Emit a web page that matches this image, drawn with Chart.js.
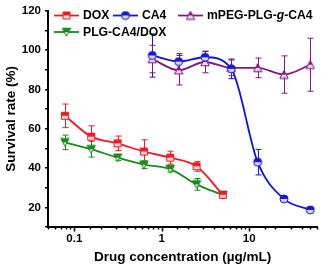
<!DOCTYPE html>
<html>
<head>
<meta charset="utf-8">
<script src="https://cdn.jsdelivr.net/npm/chart.js@4.4.0/dist/chart.umd.min.js"></script>
<style>
  html, body { margin: 0; padding: 0; background: #fff; }
  #wrap { width: 323px; height: 268px; }
</style>
</head>
<body>
<div id="wrap"><canvas id="cell"></canvas></div>
<script>
// concentrations (ug/mL)
const doxConc = [0.078, 0.156, 0.3125, 0.625, 1.25, 2.5, 5];
const ca4Conc = [0.78, 1.56, 3.125, 6.25, 12.5, 25, 50];

// survival rate (%) and error
const doxRate = [66.6, 56, 52.6, 48.4, 45.3, 40.9, 26.4];
const doxErr  = [6, 5.5, 3.7, 6, 3.3, 2.5, 1.5];
const ca4Rate = [97.3, 94.2, 96.4, 90.5, 43, 24.3, 18.7];
const ca4Err  = [11, 4, 3, 5, 6.5, 1, 1];
const mpegRate = [95.5, 89.8, 94, 91, 91, 87.6, 92.6];
const mpegErr  = [7, 7.5, 5.5, 4, 5, 9.5, 13.5];
const plgRate = [53.1, 49.6, 45.3, 41.7, 39.5, 31.7, 26.3];
const plgErr  = [3.7, 4, 1.5, 2, 1.5, 3, 1.5];

const xTickLabels = [0.1, 1, 10];
const FONT = "'Liberation Sans', Arial, sans-serif";

function halfMarker(shape, color, light) {
  const s = 10;
  const c = document.createElement('canvas');
  c.width = s; c.height = s;
  const ctx = c.getContext('2d');
  const m = s / 2;
  function path() {
    ctx.beginPath();
    if (shape === 'rect') ctx.rect(1.5, 1.5, s - 3, s - 3);
    else if (shape === 'circle') ctx.arc(m, m, m - 1, 0, Math.PI * 2);
    else if (shape === 'up') { ctx.moveTo(m, 0.8); ctx.lineTo(s - 0.8, s - 1.2); ctx.lineTo(0.8, s - 1.2); ctx.closePath(); }
    else { ctx.moveTo(0.8, 1.2); ctx.lineTo(s - 0.8, 1.2); ctx.lineTo(m, s - 0.8); ctx.closePath(); }
  }
  ctx.save();
  path();
  ctx.clip();
  ctx.fillStyle = light;
  ctx.fillRect(0, 0, s, s);
  ctx.fillStyle = color;
  ctx.fillRect(0, 0, s, m);
  ctx.restore();
  path();
  ctx.strokeStyle = color;
  ctx.lineWidth = 1;
  ctx.stroke();
  return c;
}

function pts(xs, ys) {
  return xs.map((x, i) => ({ x: x, y: ys[i] }));
}

const series = [
  { label: 'DOX', xs: doxConc, ys: doxRate, err: doxErr, color: '#ee1c24', light: '#fcd6d6', shape: 'rect' },
  { label: 'CA4', xs: ca4Conc, ys: ca4Rate, err: ca4Err, color: '#1414dc', light: '#d6d6fa', shape: 'circle' },
  { label: 'mPEG-PLG-g-CA4', xs: ca4Conc, ys: mpegRate, err: mpegErr, color: '#80187f', light: '#ecd4ec', shape: 'up' },
  { label: 'PLG-CA4/DOX', xs: doxConc, ys: plgRate, err: plgErr, color: '#1a8a1a', light: '#d4ecd4', shape: 'down' }
];
series.forEach(s => { s.marker = halfMarker(s.shape, s.color, s.light); });

const errorBars = {
  id: 'errorBars',
  beforeDatasetsDraw(chart) {
    const ctx = chart.ctx;
    const xs = chart.scales.x, ys = chart.scales.y;
    ctx.save();
    series.forEach(s => {
      ctx.strokeStyle = s.color;
      ctx.lineWidth = 1;
      s.xs.forEach((x, i) => {
        const px = Math.round(xs.getPixelForValue(x)) + 0.5;
        const top = ys.getPixelForValue(s.ys[i] + s.err[i]);
        const bot = ys.getPixelForValue(s.ys[i] - s.err[i]);
        ctx.beginPath();
        ctx.moveTo(px, top); ctx.lineTo(px, bot);
        ctx.moveTo(px - 3, top); ctx.lineTo(px + 3, top);
        ctx.moveTo(px - 3, bot); ctx.lineTo(px + 3, bot);
        ctx.stroke();
      });
    });
    ctx.restore();
  }
};

// log-axis ticks: long at decades, short between
const xTicks = {
  id: 'xTicks',
  afterDraw(chart) {
    const ctx = chart.ctx;
    const xs = chart.scales.x;
    const y0 = chart.chartArea.bottom;
    ctx.save();
    ctx.strokeStyle = '#000';
    ctx.lineWidth = 1.5;
    xs.ticks.forEach(t => {
      const px = Math.round(xs.getPixelForValue(t.value)) + 0.5;
      const major = xTickLabels.includes(+t.value.toPrecision(3));
      ctx.beginPath();
      ctx.moveTo(px, y0);
      ctx.lineTo(px, y0 + (major ? 4.5 : 2.5));
      ctx.stroke();
    });
    ctx.restore();
  }
};

const legendDraw = {
  id: 'legendDraw',
  afterDraw(chart) {
    const ctx = chart.ctx;
    const spots = [
      { x: 54, y: 15.5 }, { x: 113, y: 15.5 }, { x: 178, y: 15.5 }, { x: 54, y: 32 }
    ];
    ctx.save();
    ctx.textBaseline = 'middle';
    series.forEach((s, i) => {
      const p = spots[i];
      ctx.strokeStyle = s.color;
      ctx.lineWidth = 1.8;
      ctx.beginPath();
      ctx.moveTo(p.x, p.y); ctx.lineTo(p.x + 25, p.y);
      ctx.stroke();
      ctx.drawImage(s.marker, p.x + 12.5 - s.marker.width / 2, p.y - s.marker.height / 2);
      ctx.fillStyle = '#000';
      let tx = p.x + 29;
      const parts = s.label === 'mPEG-PLG-g-CA4'
        ? [['mPEG-PLG-', false], ['g', true], ['-CA4', false]]
        : [[s.label, false]];
      parts.forEach(([txt, it]) => {
        ctx.font = (it ? 'italic ' : '') + 'bold 12.2px ' + FONT;
        ctx.fillText(txt, tx, p.y + 0.5);
        tx += ctx.measureText(txt).width;
      });
    });
    ctx.restore();
  }
};

new Chart(document.getElementById('cell').getContext('2d'), {
  type: 'line',
  data: {
    datasets: series.map(s => ({
      label: s.label,
      data: pts(s.xs, s.ys),
      borderColor: s.color,
      backgroundColor: s.color,
      borderWidth: 1.8,
      cubicInterpolationMode: 'monotone',
      pointStyle: s.marker,
      pointRadius: 4,
      pointHoverRadius: 4,
      fill: false
    }))
  },
  options: {
    responsive: true,
    maintainAspectRatio: false,
    animation: false,
    events: [],
    layout: { padding: { top: 9, right: 5, left: 0, bottom: 0 } },
    plugins: {
      legend: { display: false },
      tooltip: { enabled: false }
    },
    scales: {
      x: {
        type: 'logarithmic',
        min: 0.05,
        max: 60,
        afterFit: sc => { sc.height = 41; },
        border: { display: true, color: '#000', width: 2 },
        grid: { display: false, drawTicks: false, tickLength: 0 },
        ticks: {
          autoSkip: false,
          maxRotation: 0,
          padding: 5,
          color: '#000',
          font: { family: FONT, size: 11.5, weight: 'bold' },
          callback: v => xTickLabels.includes(+(+v).toPrecision(3)) ? String(+(+v).toPrecision(3)) : ''
        },
        title: {
          display: true,
          text: 'Drug concentration (\u00b5g/mL)',
          color: '#000',
          font: { family: FONT, size: 13.5, weight: 'bold' },
          padding: { top: 0, bottom: 3 }
        }
      },
      y: {
        min: 10,
        max: 120,
        afterFit: sc => { sc.width = 48; },
        border: { display: true, color: '#000', width: 2 },
        grid: { drawOnChartArea: false, drawTicks: true, tickLength: 3, color: '#000', lineWidth: 1.5 },
        ticks: {
          stepSize: 10,
          padding: 4,
          color: '#000',
          font: { family: FONT, size: 11.5, weight: 'bold' },
          callback: v => v % 20 === 0 ? v : ''
        },
        title: {
          display: true,
          text: 'Survival rate (%)',
          color: '#000',
          font: { family: FONT, size: 13.5, weight: 'bold' },
          padding: { top: 3, bottom: 0 }
        }
      }
    }
  },
  plugins: [errorBars, xTicks, legendDraw]
});
</script>
</body>
</html>
